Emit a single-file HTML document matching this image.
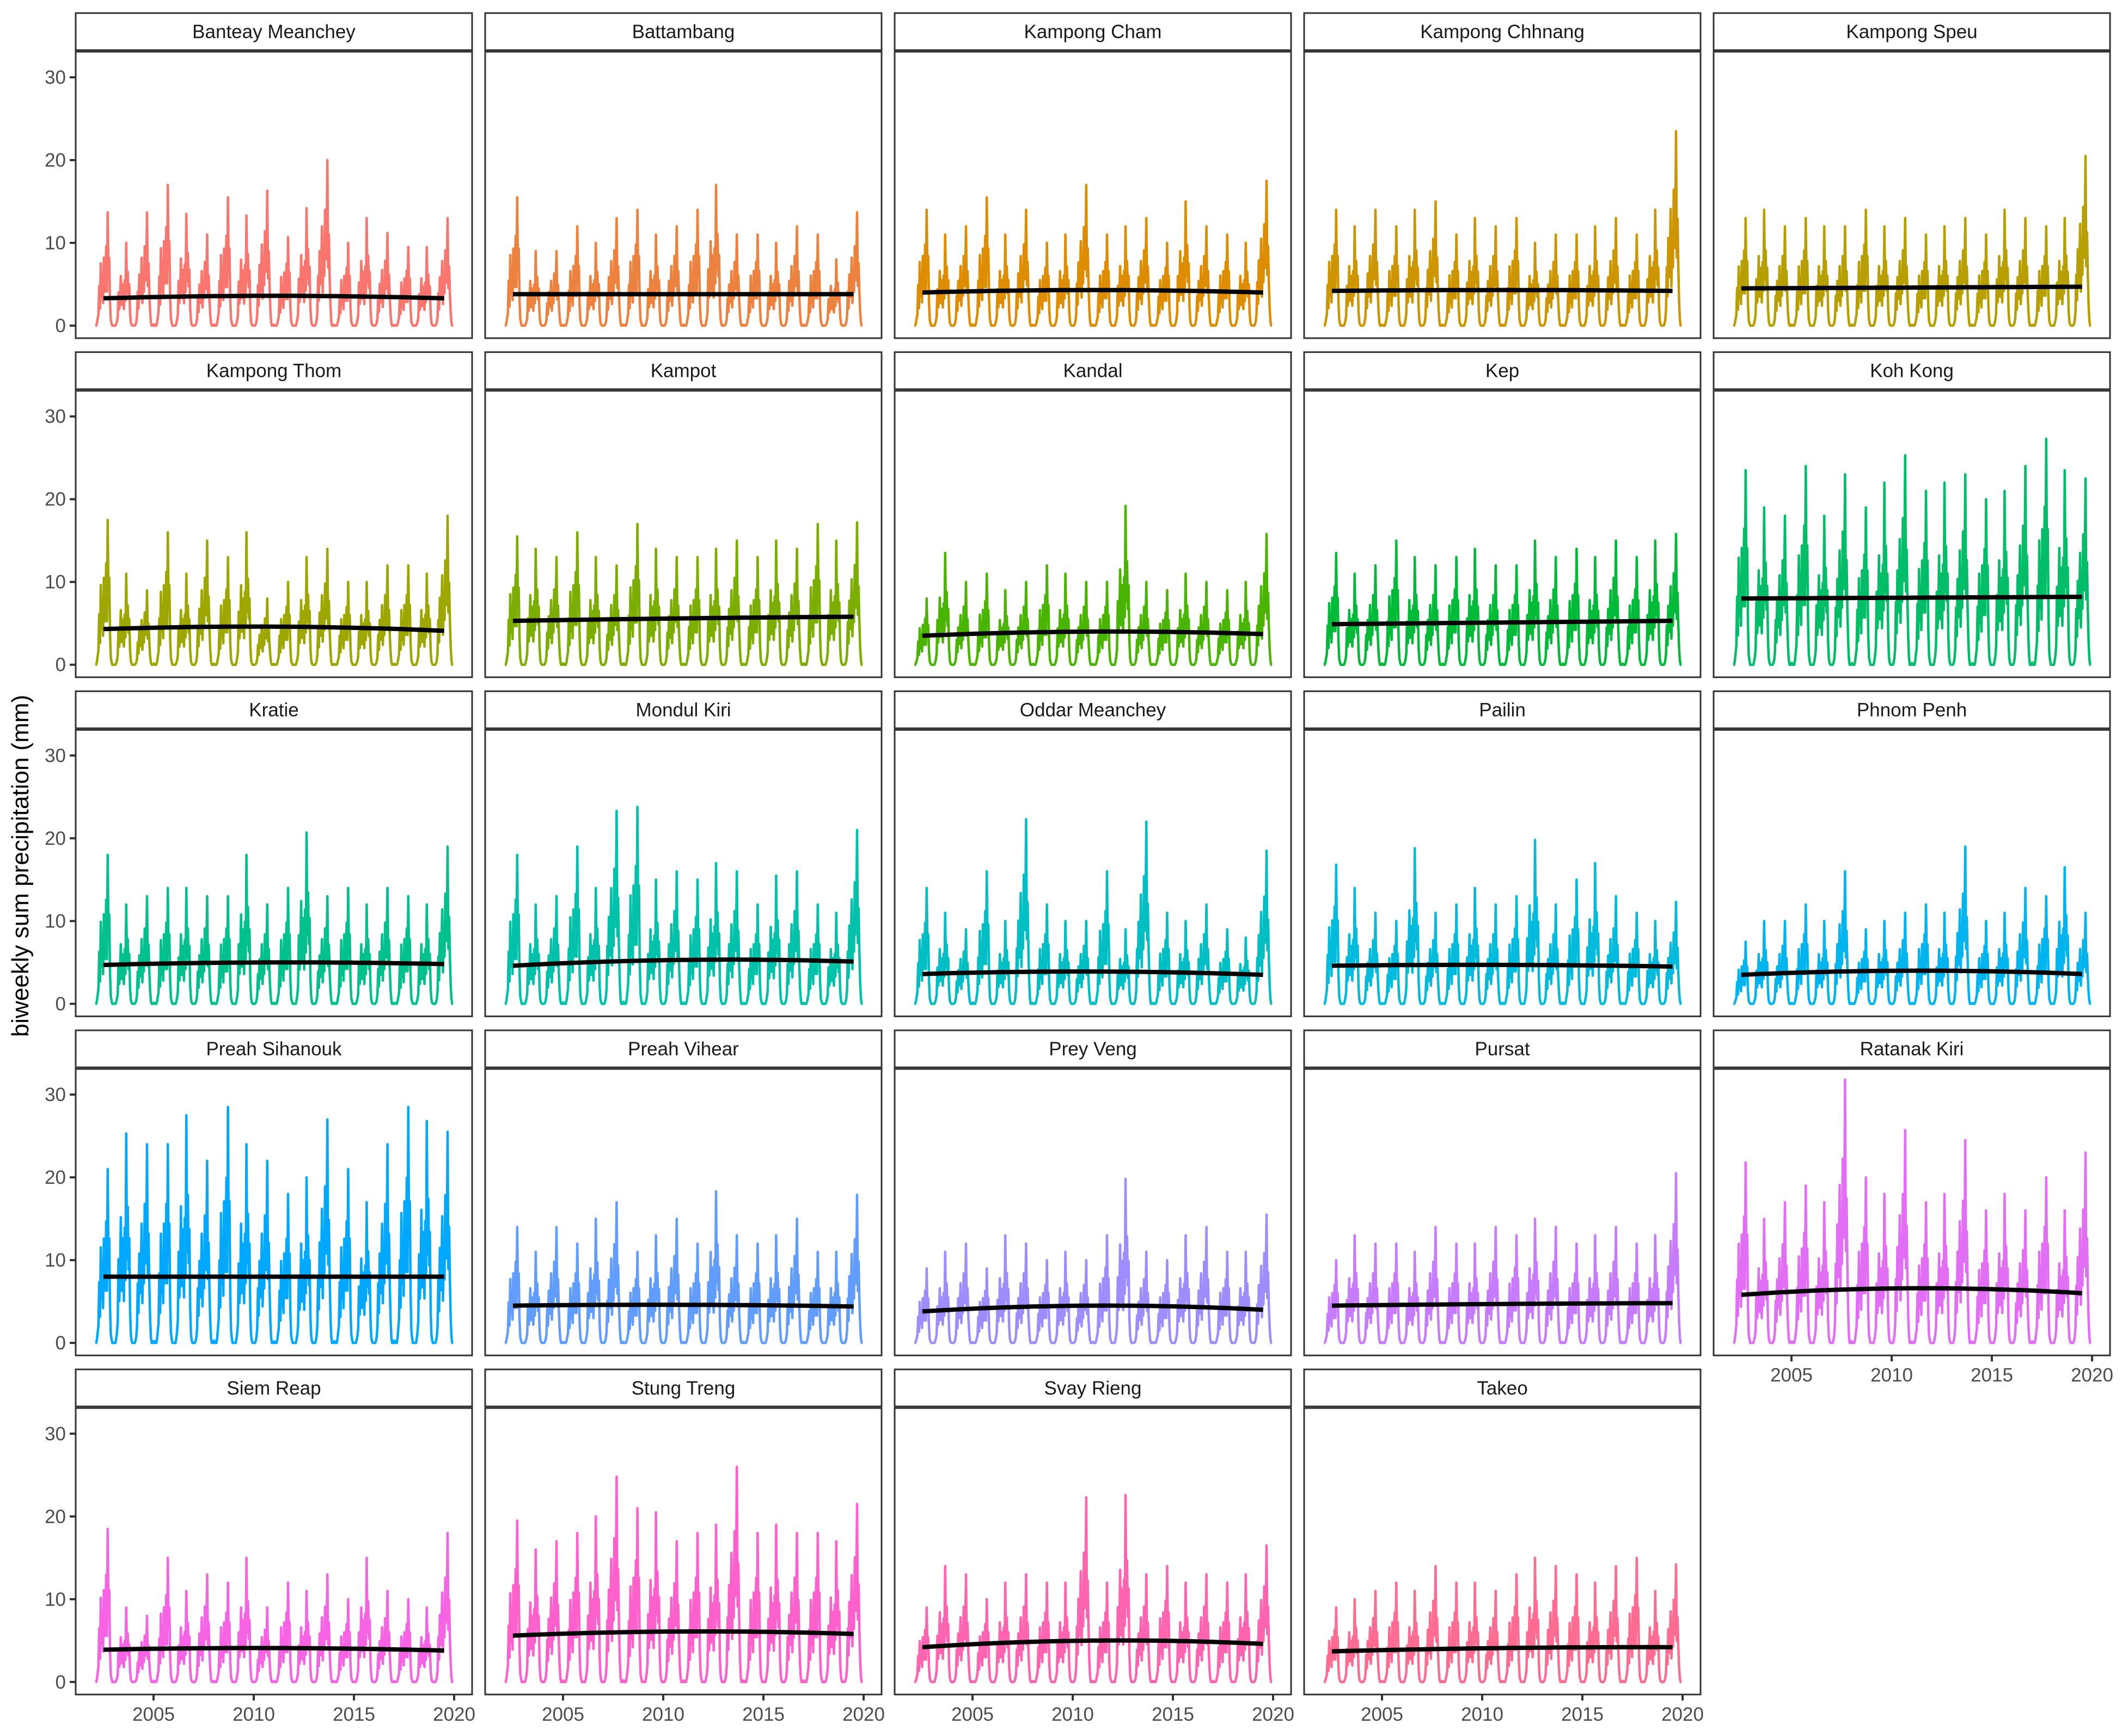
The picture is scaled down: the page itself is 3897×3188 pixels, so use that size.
<!DOCTYPE html>
<html><head><meta charset="utf-8"><title>Biweekly precipitation by province</title>
<style>html,body{margin:0;padding:0;background:#fff}svg{display:block}</style></head>
<body>
<svg id="chart" xmlns="http://www.w3.org/2000/svg" width="3897" height="3188" viewBox="0 0 3897 3188" font-family="Liberation Sans, sans-serif">
<rect width="3897" height="3188" fill="#fff"/>
<text x="0" y="0" transform="translate(52,1590) rotate(-90)" text-anchor="middle" font-size="44" fill="#000">biweekly sum precipitation (mm)</text>
</svg>
<script>
const provinces = ["Banteay Meanchey","Battambang","Kampong Cham","Kampong Chhnang","Kampong Speu","Kampong Thom","Kampot","Kandal","Kep","Koh Kong","Kratie","Mondul Kiri","Oddar Meanchey","Pailin","Phnom Penh","Preah Sihanouk","Preah Vihear","Prey Veng","Pursat","Ratanak Kiri","Siem Reap","Stung Treng","Svay Rieng","Takeo"];
const years = [2002,2003,2004,2005,2006,2007,2008,2009,2010,2011,2012,2013,2014,2015,2016,2017,2018,2019];
const peaks = [
[13.7,10,13.7,17,13.5,11,15.5,13.3,16.3,10.7,14.2,20,10,13,11.2,9.5,9.5,13],
[15.5,9,9,12,10,13,14,11,12,14,17,11,11,10,12,11,8,13.7],
[14,11,12,15.5,11,14,10,11,17,11,12,13,10,15,12,11,10,17.5],
[14,12,14,12,14,15,11,13,12,13,10,11,11,12,13,11,14,23.5],
[13,14,12,13,12,12,14,12,13,11,12,13,11,14,13,12,13,20.5],
[17.5,11,9,16,11,15,13,16,8,10,13,14,10,10,12,12,11,18],
[15.5,14,13,16,13,12,17,14,13,13,14,15,13,15,14,17,15,17.2],
[8,13.5,10,11,9,10,12,11,10,10,19.2,10,9,11,10,9,10,15.8],
[13.5,11,12,15,13,12,13,14,12,12,15,13,14,13,15,13,15,15.8],
[23.5,19,18,24,18,23,19,22,25.3,21,22,23,20,21,24,27.3,23.5,22.5],
[18,12,13,14,14,13,13,18,12,14,20.7,13,14,12,14,13,12,19],
[18,12,13,19,14,23.3,23.8,15,16,15,17,16,12,15.5,16,12,11,21],
[14,11,9,16,10,22.3,12,10,10,16,9,22,11,10,12,9,8,18.5],
[16.8,14,11,10,18.8,11,12,14,12,13,19.8,12,15,17,13,11,10,12.3],
[7.5,10,10,12,10,16,9,10,11,12,11,19,10,11,14,13,16.5,11],
[21,25.3,24,24,27.5,22,28.5,24,22,18,20,27,21,17,24,28.5,26.8,25.5],
[14,11,14,12,15,17,11,13,15,12,18.3,13,12,13,15,11,11,17.9],
[9,11,12,9,13,12,10,11,10,13,19.8,11,10,13,14,11,11,15.5],
[10,13,12,12,11,14,12,12,14,13,15,14,12,13,14,12,13,20.5],
[21.8,15,17,19,17,31.8,20,18,25.7,17,18,24.5,16,18,16,20,16,23],
[18.5,9,8,15,11,13,12,15,9,12,11,13,10,15,11,10,9,18],
[19.5,16,17,18,20,24.8,21,20.5,17,18,19,26,18,19,18,18,17,21.5],
[9,14,13,10,12,13,12,12,22.3,12,22.6,13,14,12,13,12,13,16.5],
[9,10,11,12,11,14,12,12,11,13,15,14,13,12,14,15,11,14.2]];
const trendStart = [3.3,3.8,4.0,4.2,4.5,4.3,5.3,3.5,4.9,8.0,4.7,4.6,3.6,4.6,3.5,8.0,4.5,3.8,4.5,5.8,3.9,5.6,4.2,3.7];
const trendMid   = [3.6,3.8,4.3,4.3,4.6,4.6,5.6,4.0,5.1,8.1,5.0,5.3,3.9,4.7,4.0,8.0,4.6,4.5,4.7,6.6,4.1,6.1,5.0,4.1];
const trendEnd   = [3.3,3.8,4.0,4.2,4.7,4.1,5.8,3.7,5.3,8.2,4.8,5.1,3.5,4.5,3.6,8.0,4.4,4.0,4.8,6.0,3.8,5.8,4.6,4.2];
const profileA = [0.01,0,0,0,0.02,0.06,0.1,0.35,0.15,0.55,0.25,0.45,0.2,0.6,0.3,0.4,0.7,0.3,1.0,0.45,0.6,0.2,0.05,0.02,0,0];
const profileB = [0,0,0,0.02,0.05,0.1,0.4,0.2,0.3,0.6,0.25,0.5,0.35,0.2,0.55,0.3,1.0,0.4,0.65,0.35,0.5,0.15,0.04,0.01,0,0];
const profileC = [0,0,0.01,0.03,0.08,0.3,0.15,0.45,0.25,0.35,0.6,0.2,0.45,0.3,0.7,0.4,0.5,1.0,0.35,0.55,0.3,0.12,0.03,0,0,0];
const yTicks = [0,10,20,30];
const xTicks = [2005,2010,2015,2020];

const NS = "http://www.w3.org/2000/svg";
const svg = document.getElementById('chart');
function mk(tag, attrs, parent){const e=document.createElementNS(NS,tag);for(const k in attrs)e.setAttribute(k,attrs[k]);(parent||svg).appendChild(e);return e;}

function hcl(h,c,l){
  const Xn=95.047,Yn=100,Zn=108.883;
  const un=4*Xn/(Xn+15*Yn+3*Zn), vn=9*Yn/(Xn+15*Yn+3*Zn);
  const hr=h*Math.PI/180, u=c*Math.cos(hr), v=c*Math.sin(hr);
  const Y=Yn*Math.pow((l+16)/116,3);
  const up=u/(13*l)+un, vp=v/(13*l)+vn;
  const X=Y*9*up/(4*vp), Z=Y*(12-3*up-20*vp)/(4*vp);
  const x=X/100,y=Y/100,z=Z/100;
  let r=3.2404542*x-1.5371385*y-0.4985314*z, g=-0.9692660*x+1.8760108*y+0.0415560*z, b=0.0556434*x-0.2040259*y+1.0572252*z;
  const gm=t=>{t=t<=0.0031308?12.92*t:1.055*Math.pow(t,1/2.4)-0.055;return Math.max(0,Math.min(255,Math.round(t*255)));};
  return `rgb(${gm(r)},${gm(g)},${gm(b)})`;
}

const colLeft=[139,891,1643,2395,3147], PW=728;
const rowTop=r=>24+r*622.7;
const STRIP=68, PGAP=3, PH=526;
const xs=(left,yr)=>left+143+(yr-2005)*36.8;
const ys=(top,v)=>top+503-v*15.2;
const profiles=[profileA,profileB,profileC];

provinces.forEach((name,i)=>{
  const c=i%5, r=Math.floor(i/5);
  const L=colLeft[c], T=rowTop(r), PT=T+STRIP+PGAP;
  const g=mk('g',{});
  
  
  const strip=mk('rect',{x:L,y:T,width:PW,height:STRIP,fill:'#fff',stroke:'#333','stroke-width':3},g);
  
  
  const st=mk('text',{x:L+PW/2,y:T+STRIP/2+12,'text-anchor':'middle','font-size':35,fill:'#1a1a1a'},g);
  st.textContent=name;
  
  
  const col=hcl(15+i*15,100,65);
  const pts=[];
  years.forEach((yr,yi)=>{
    const prof=profiles[yi%3];
    prof.forEach((p,k)=>{
      const t=yr+k/26+0.02;
      if(t<2002.08||t>2019.97)return;
      pts.push(xs(L,t).toFixed(1)+','+ys(PT,peaks[i][yi]*p).toFixed(1));
    });
  });
  const line=mk('polyline',{points:pts.join(' '),fill:'none',stroke:col,'stroke-width':4.5,'stroke-linejoin':'round'},g);
  
  
  const t0=2002.5,t1=2011,t2=2019.5;
  const tp=[];
  for(let s=0;s<=40;s++){
    const t=t0+(t2-t0)*s/40;
    const v=trendStart[i]*((t-t1)*(t-t2))/((t0-t1)*(t0-t2))+trendMid[i]*((t-t0)*(t-t2))/((t1-t0)*(t1-t2))+trendEnd[i]*((t-t0)*(t-t1))/((t2-t0)*(t2-t1));
    tp.push(xs(L,t).toFixed(1)+','+ys(PT,v).toFixed(1));
  }
  const tl=mk('polyline',{points:tp.join(' '),fill:'none',stroke:'#000','stroke-width':8},g);
  
  
  const border=mk('rect',{x:L,y:PT,width:PW,height:PH,fill:'none',stroke:'#333','stroke-width':3},g);
  
  
  if(c===0){
    yTicks.forEach(v=>{
      const y=ys(PT,v);
      const tk=mk('line',{x1:L-11,x2:L,y1:y,y2:y,stroke:'#333','stroke-width':4},g);
      
      
      const lb=mk('text',{x:L-18,y:y+12,'text-anchor':'end','font-size':35,fill:'#4d4d4d'},g);
      lb.textContent=v;
      
      
    });
  }
  if(r===4||i===19){
    xTicks.forEach(yr=>{
      const x=xs(L,yr), yb=PT+PH;
      const tk=mk('line',{x1:x,x2:x,y1:yb,y2:yb+11,stroke:'#333','stroke-width':4},g);
      
      
      const lb=mk('text',{x:x,y:yb+48,'text-anchor':'middle','font-size':35,fill:'#4d4d4d'},g);
      lb.textContent=yr;
      
      
    });
  }
});
</script>
</body></html>
